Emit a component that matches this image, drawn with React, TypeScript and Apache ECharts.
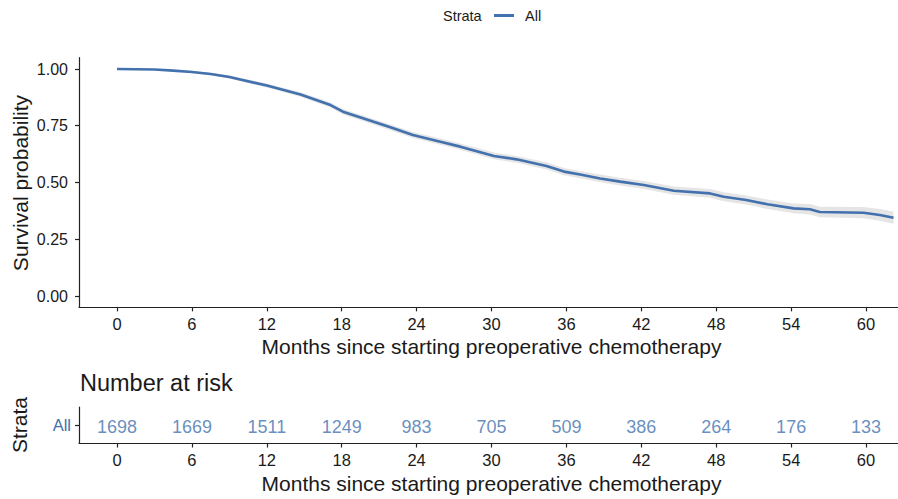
import React, { useEffect, useRef } from "react";
import * as echarts from "echarts";

const timeMonths = [0, 3, 4.5, 6, 7.5, 9, 12, 14.7, 17.1, 18.1, 19.7, 21.9, 23.7, 25.9, 27.5, 30.2, 32.0, 34.4, 35.8, 37.1, 38.7, 40.3, 42.2, 44.6, 47.5, 48.6, 50.4, 52.1, 54.2, 55.5, 56.3, 59.8, 61.1, 62.2];
const survival = [1.0, 0.998, 0.993, 0.987, 0.978, 0.965, 0.927, 0.888, 0.841, 0.812, 0.783, 0.743, 0.709, 0.68, 0.658, 0.617, 0.602, 0.573, 0.548, 0.535, 0.518, 0.504, 0.489, 0.464, 0.452, 0.437, 0.423, 0.404, 0.386, 0.382, 0.37, 0.367, 0.357, 0.345];
const upperCI = [1.0, 0.999, 0.996, 0.992, 0.984, 0.972, 0.936, 0.898, 0.852, 0.824, 0.795, 0.756, 0.722, 0.694, 0.672, 0.632, 0.617, 0.589, 0.564, 0.551, 0.535, 0.521, 0.507, 0.482, 0.471, 0.457, 0.443, 0.425, 0.408, 0.405, 0.393, 0.392, 0.383, 0.372];
const lowerCI = [1.0, 0.997, 0.99, 0.982, 0.972, 0.958, 0.918, 0.878, 0.83, 0.8, 0.771, 0.73, 0.696, 0.666, 0.644, 0.602, 0.587, 0.557, 0.532, 0.519, 0.501, 0.487, 0.471, 0.446, 0.433, 0.417, 0.403, 0.383, 0.364, 0.359, 0.347, 0.342, 0.331, 0.318];

const xTicks = [0, 6, 12, 18, 24, 30, 36, 42, 48, 54, 60];
const yTicks = [0, 0.25, 0.5, 0.75, 1.0];
const riskTimes = [0, 6, 12, 18, 24, 30, 36, 42, 48, 54, 60];
const riskCounts = [1698, 1669, 1511, 1249, 983, 705, 509, 386, 264, 176, 133];
const strata = ["All"];

const FONT = "Liberation Sans, Arial, Helvetica, sans-serif";
const BLUE = "#4271AE";
const AXIS = "#222222";

export default function App() {
  const ref = useRef<HTMLDivElement>(null);

  useEffect(() => {
    if (!ref.current) return;
    const chart = echarts.init(ref.current, null, { renderer: "svg" });
    const xMin = -3.044;
    const xMax = 62.56;

    const axisLineCommon = { show: true, onZero: false, lineStyle: { color: AXIS, width: 1.2 } };
    const tickCommon = { show: true, length: 4, lineStyle: { color: AXIS, width: 1.2 } };

    const option: any = {
      animation: false,
      textStyle: { fontFamily: FONT },
      legend: {
        data: ["All"],
        left: 494,
        top: 8,
        padding: 0,
        icon: "rect",
        itemWidth: 20,
        itemHeight: 3,
        textStyle: { fontSize: 14.5, color: "#1a1a1a", fontFamily: FONT, padding: [0, 0, 0, 6] },
      },
      grid: [
        { left: 79, top: 57.65, width: 819, height: 249.7, containLabel: false },
        { left: 79, top: 407, width: 819, height: 36.5, containLabel: false },
      ],
      xAxis: [
        {
          type: "value",
          gridIndex: 0,
          min: xMin,
          max: xMax,
          splitLine: { show: false },
          axisLine: axisLineCommon,
          axisTick: { ...tickCommon, customValues: xTicks },
          axisLabel: { customValues: xTicks, fontSize: 16.5, color: "#1a1a1a", margin: 8, fontFamily: FONT },
        },
        {
          type: "value",
          gridIndex: 1,
          min: xMin,
          max: xMax,
          splitLine: { show: false },
          axisLine: axisLineCommon,
          axisTick: { ...tickCommon, customValues: xTicks },
          axisLabel: { customValues: xTicks, fontSize: 16.5, color: "#1a1a1a", margin: 8, fontFamily: FONT },
        },
      ],
      yAxis: [
        {
          type: "value",
          gridIndex: 0,
          min: -0.05,
          max: 1.05,
          splitLine: { show: false },
          axisLine: axisLineCommon,
          axisTick: { ...tickCommon, customValues: yTicks },
          axisLabel: {
            customValues: yTicks,
            fontSize: 16,
            color: "#1a1a1a",
            margin: 11,
            fontFamily: FONT,
            formatter: (v: number) => v.toFixed(2),
          },
        },
        {
          type: "category",
          gridIndex: 1,
          data: strata,
          splitLine: { show: false },
          axisLine: axisLineCommon,
          axisTick: { ...tickCommon, alignWithLabel: true },
          axisLabel: { fontSize: 16.5, color: BLUE, margin: 8, fontFamily: FONT },
        },
      ],
      series: [
        {
          type: "custom",
          name: "CI",
          xAxisIndex: 0,
          yAxisIndex: 0,
          data: [[0, 1]],
          encode: { x: 0, y: 1 },
          silent: true,
          z: 1,
          renderItem: (_params: any, api: any) => {
            const pts: number[][] = [];
            for (let i = 0; i < timeMonths.length; i++) pts.push(api.coord([timeMonths[i], upperCI[i]]));
            for (let i = timeMonths.length - 1; i >= 0; i--) pts.push(api.coord([timeMonths[i], lowerCI[i]]));
            return {
              type: "polygon",
              shape: { points: pts },
              style: { fill: "rgba(190,190,190,0.4)", stroke: "none" },
            };
          },
        },
        {
          type: "line",
          name: "All",
          xAxisIndex: 0,
          yAxisIndex: 0,
          data: timeMonths.map((t, i) => [t, survival[i]]),
          showSymbol: false,
          symbol: "none",
          lineStyle: { color: BLUE, width: 2.6 },
          itemStyle: { color: BLUE },
          z: 3,
        },
        {
          type: "scatter",
          name: "risk",
          xAxisIndex: 1,
          yAxisIndex: 1,
          symbolSize: 0,
          data: riskTimes.map((t, i) => [t, 0, riskCounts[i]]),
          label: {
            show: true,
            position: "inside",
            formatter: (p: any) => String(p.value[2]),
            fontSize: 18,
            color: BLUE,
            fontFamily: FONT,
            offset: [0, 1.5],
          },
        },
      ],
      graphic: [
        {
          type: "text",
          left: 443,
          top: 8,
          style: { text: "Strata", fontSize: 14.5, fill: "#1a1a1a", fontFamily: FONT },
        },
        {
          type: "text",
          x: 20,
          y: 183,
          rotation: Math.PI / 2,
          style: { text: "Survival probability", fontSize: 21, fill: "#1a1a1a", fontFamily: FONT, align: "center", verticalAlign: "middle" },
        },
        {
          type: "text",
          x: 491.5,
          y: 346,
          style: { text: "Months since starting preoperative chemotherapy", fontSize: 21, fill: "#1a1a1a", fontFamily: FONT, align: "center", verticalAlign: "middle" },
        },
        {
          type: "text",
          x: 80,
          y: 383,
          style: { text: "Number at risk", fontSize: 23.5, fill: "#1a1a1a", fontFamily: FONT, align: "left", verticalAlign: "middle" },
        },
        {
          type: "text",
          x: 19,
          y: 425,
          rotation: Math.PI / 2,
          style: { text: "Strata", fontSize: 21, fill: "#1a1a1a", fontFamily: FONT, align: "center", verticalAlign: "middle" },
        },
        {
          type: "text",
          x: 491.5,
          y: 483,
          style: { text: "Months since starting preoperative chemotherapy", fontSize: 21, fill: "#1a1a1a", fontFamily: FONT, align: "center", verticalAlign: "middle" },
        },
      ],
    };

    chart.setOption(option);
    return () => chart.dispose();
  }, []);

  return (
    <div
      ref={ref}
      style={{ position: "absolute", left: 0, top: 0, width: 898, height: 499, background: "#ffffff" }}
    />
  );
}
